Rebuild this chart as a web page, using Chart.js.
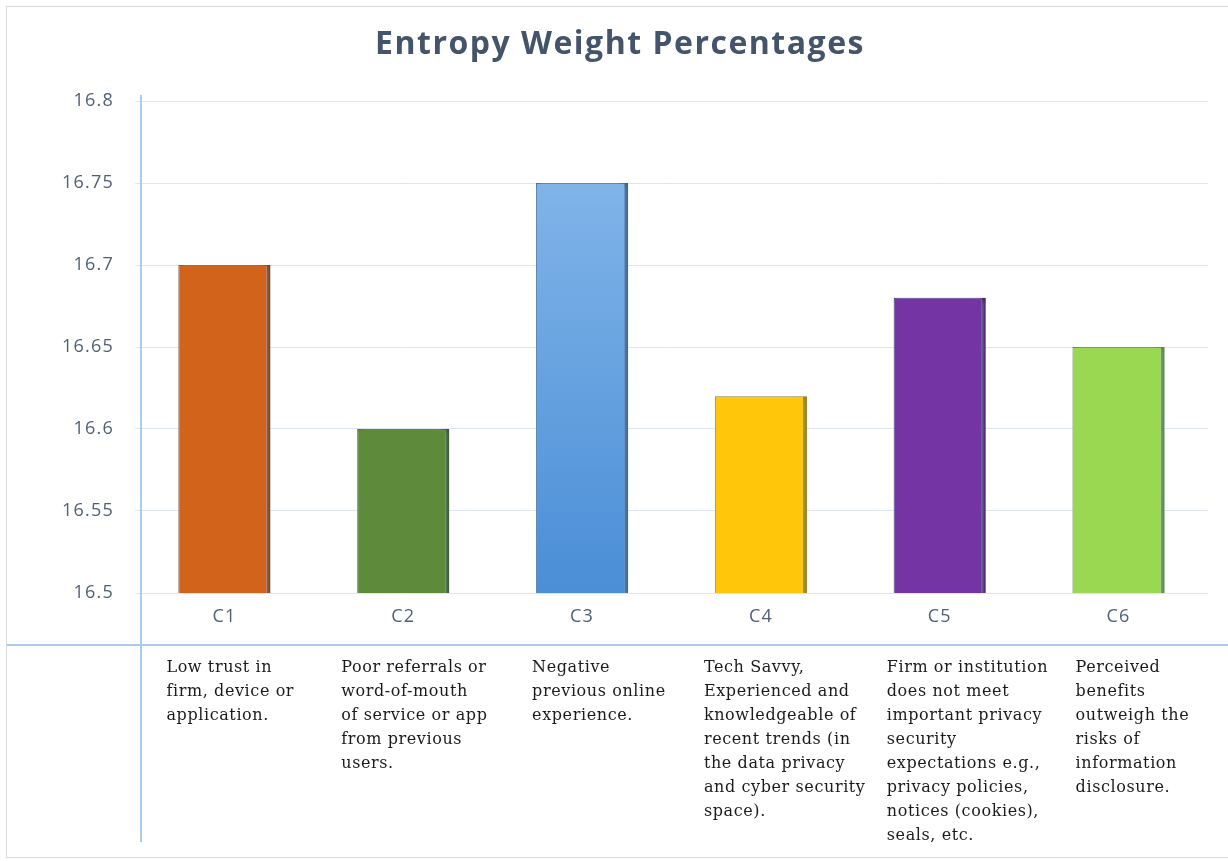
<!DOCTYPE html>
<html>
<head>
<meta charset="utf-8">
<title>Entropy Weight Percentages</title>
<script src="https://cdn.jsdelivr.net/npm/chart.js@4"></script>
<style>
	html, body { margin:0; padding:0; background:#fff; }
	#wrap { width:1228px; height:861px; position:relative; }
</style>
</head>
<body>
<div id="wrap"><canvas id="chart"></canvas></div>
<script>
const chartTitle = 'Entropy Weight Percentages';
const categories = ['C1', 'C2', 'C3', 'C4', 'C5', 'C6'];
const weights = [16.7, 16.6, 16.75, 16.62, 16.68, 16.65];

// criterion descriptions, one line per entry as wrapped in the source
const descC1 = ['Low trust in', 'firm, device or', 'application.'];
const descC2 = ['Poor referrals or', 'word-of-mouth', 'of service or app', 'from previous', 'users.'];
const descC3 = ['Negative', 'previous online', 'experience.'];
const descC4 = ['Tech Savvy,', 'Experienced and', 'knowledgeable of', 'recent trends (in', 'the data privacy', 'and cyber security', 'space).'];
const descC5 = ['Firm or institution', 'does not meet', 'important privacy', 'security', 'expectations e.g.,', 'privacy policies,', 'notices (cookies),', 'seals, etc.'];
const descC6 = ['Perceived', 'benefits', 'outweigh the', 'risks of', 'information', 'disclosure.'];
const descriptions = [descC1, descC2, descC3, descC4, descC5, descC6];

// text column start, relative to each bar centre (the table cells are uneven)
const descShift = [-58, -62, -50, -57, -53, -43];

const fillColors = ['#d2631a', '#5e8b3b', '#5c9ddf', '#ffc60a', '#7434a3', '#9bd852'];
const edgeColors = ['#7a380d', '#34511f', '#2d5b8c', '#9c7700', '#3b1857', '#557f25'];

const axisText = '#4f5f76';
const tableLine = '#a9cbec';

function barFill(ctx) {
	const i = ctx.dataIndex;
	if (i !== 2) return fillColors[i];
	const area = ctx.chart.chartArea;
	if (!area) return fillColors[i];
	// C3 bar fades from light blue at the top to a deeper blue at the base
	const g = ctx.chart.ctx.createLinearGradient(0, area.top + 80, 0, area.bottom);
	g.addColorStop(0, '#80b4e9');
	g.addColorStop(1, '#4a8ed6');
	return g;
}

const glow = {
	id: 'glow',
	beforeDatasetsDraw(chart) {
		const c = chart.ctx;
		c.save();
		c.shadowColor = 'rgba(160,198,235,0.95)';
		c.shadowBlur = 7;
	},
	afterDatasetsDraw(chart) {
		chart.ctx.restore();
	}
};

// frame, title, table rules and the description text under the category labels
const table = {
	id: 'table',
	beforeDraw(chart) {
		const c = chart.ctx;
		c.save();
		c.strokeStyle = '#d9d9d9';
		c.lineWidth = 1;
		c.strokeRect(6.5, 6.5, 1240, 851);

		c.letterSpacing = '1.5px';
		c.fillStyle = '#44546a';
		c.font = 'bold 32px "Open Sans"';
		c.textAlign = 'center';
		c.textBaseline = 'middle';
		c.fillText(chartTitle, 620, 45);
		c.restore();
		// the axis labels in the source are set a little wide
		c.letterSpacing = '1.2px';
	},
	afterDraw(chart) {
		const c = chart.ctx;
		const area = chart.chartArea;
		const xs = chart.scales.x;
		c.save();
		c.strokeStyle = tableLine;
		c.lineWidth = 2;
		c.beginPath();
		c.moveTo(7, 645);
		c.lineTo(1228, 645);
		c.moveTo(area.left + 6, 95);
		c.lineTo(area.left + 6, 842);
		c.stroke();

		c.letterSpacing = '0.6px';
		c.fillStyle = '#1b1b1b';
		c.font = '16px "DejaVu Serif"';
		c.textBaseline = 'middle';
		c.textAlign = 'left';
		descriptions.forEach((lines, i) => {
			const x = xs.getPixelForValue(i) + descShift[i];
			lines.forEach((line, j) => {
				c.fillText(line, x, 668 + j * 24);
			});
		});
		c.restore();
		c.letterSpacing = '0px';
	}
};

new Chart(document.getElementById('chart'), {
	type: 'bar',
	data: {
		labels: categories,
		datasets: [{
			label: 'Entropy weight (%)',
			data: weights,
			backgroundColor: barFill,
			borderColor: edgeColors,
			borderWidth: { top: 1, left: 1, right: 4, bottom: 0 },
			borderSkipped: 'bottom',
			barPercentage: 1,
			categoryPercentage: 0.515
		}]
	},
	options: {
		responsive: true,
		maintainAspectRatio: false,
		animation: false,
		layout: { padding: { left: 0, right: 20, top: 101, bottom: 0 } },
		plugins: {
			legend: { display: false },
			tooltip: { enabled: false },
			title: { display: false }
		},
		scales: {
			x: {
				grid: { display: false, drawTicks: false },
				border: { display: false },
				ticks: {
					color: axisText,
					font: { family: '"Open Sans"', size: 18 },
					padding: 13
				},
				afterFit: s => { s.height = 268; }
			},
			y: {
				min: 16.5,
				max: 16.8,
				grid: { color: '#dde5ee', lineWidth: 1, drawTicks: false },
				border: { display: false },
				ticks: {
					stepSize: 0.05,
					color: axisText,
					font: { family: '"Open Sans"', size: 18 },
					padding: 21,
					callback: v => String(+v.toFixed(2))
				},
				afterFit: s => { s.width = 135; }
			}
		}
	},
	plugins: [glow, table]
});
</script>
</body>
</html>
